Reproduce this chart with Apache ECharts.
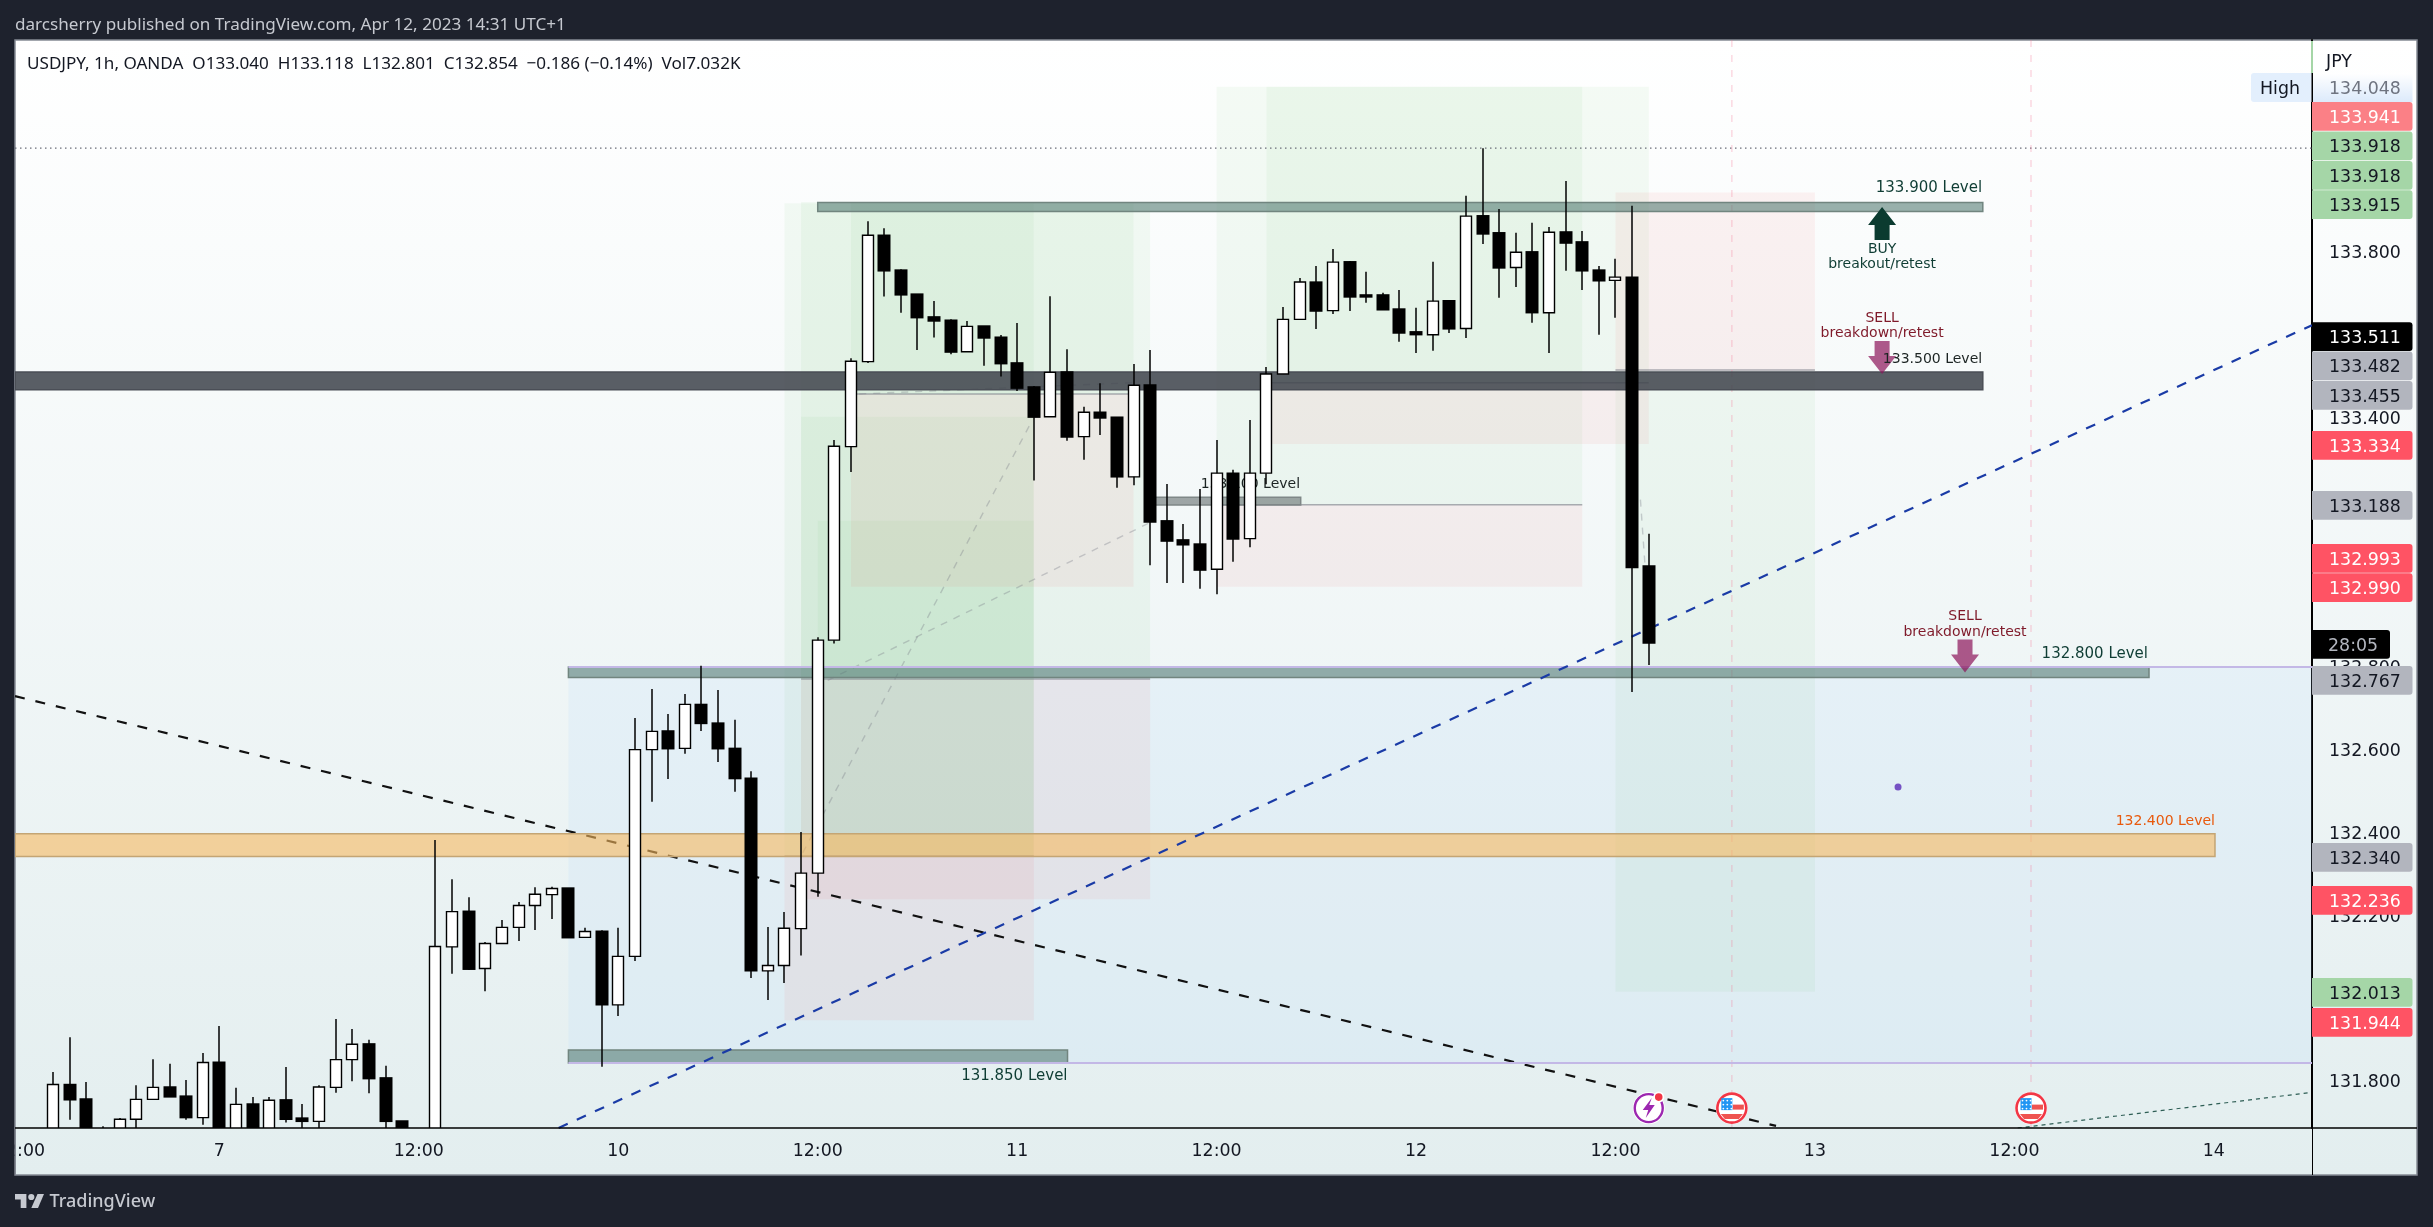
<!DOCTYPE html>
<html>
<head>
<meta charset="utf-8">
<title>USDJPY</title>
<script src="https://cdn.jsdelivr.net/npm/echarts@6/dist/echarts.min.js"></script>
<style>
html,body{margin:0;padding:0;background:#1e222d}
#chart{width:2433px;height:1227px}
</style>
</head>
<body>
<div id="chart"></div>
<script>
// hourly bars, first one sits at bar number 2 of the visible range
const firstBar = 2;
const opens = [131.62,131.789,131.754,131.66,131.65,131.705,131.753,131.783,131.761,131.709,131.843,131.64,131.742,131.64,131.752,131.708,131.7,131.782,131.849,131.887,131.805,131.701,131.6,131.65,
132.121,132.207,132.069,132.129,132.168,132.221,132.247,132.263,132.144,132.159,131.981,132.098,132.597,132.642,132.6,132.706,132.661,132.6,132.528,132.063,132.076,132.165,132.299,
132.861,133.328,133.533,133.838,133.754,133.696,133.641,133.633,133.557,133.619,133.592,133.53,133.472,133.4,133.508,133.352,133.411,133.399,133.255,133.477,133.149,133.103,133.093,133.032,133.264,133.106,
133.264,133.503,133.635,133.725,133.656,133.774,133.694,133.694,133.66,133.605,133.598,133.68,133.613,133.885,133.844,133.76,133.798,133.651,133.846,133.822,133.754,133.729,133.737,133.04];
const highs = [131.819,131.903,131.795,131.688,131.708,131.787,131.85,131.839,131.8,131.865,131.93,131.781,131.759,131.759,131.831,131.742,131.787,131.947,131.923,131.897,131.834,131.701,131.66,132.379,
132.284,132.241,132.133,132.186,132.229,132.265,132.266,132.263,132.167,132.161,132.167,132.673,132.743,132.683,132.731,132.799,132.741,132.669,132.545,132.169,132.205,132.398,132.868,
133.344,133.541,133.872,133.855,133.756,133.696,133.679,133.635,133.631,133.619,133.597,133.626,133.474,133.691,133.563,133.424,133.481,133.399,133.527,133.561,133.238,133.141,133.226,133.344,133.272,133.392,
133.52,133.665,133.735,133.764,133.805,133.776,133.75,133.699,133.706,133.663,133.774,133.682,133.933,134.048,133.901,133.844,133.868,133.858,133.969,133.848,133.764,133.781,133.909,133.118];
const lows = [131.6,131.704,131.58,131.6,131.62,131.67,131.753,131.759,131.704,131.692,131.62,131.62,131.62,131.62,131.697,131.67,131.67,131.769,131.797,131.768,131.67,131.62,131.58,131.63,
132.056,132.065,132.014,132.129,132.135,132.162,132.188,132.143,132.144,131.832,131.954,132.087,132.471,132.526,132.587,132.642,132.567,132.495,132.046,131.993,132.034,132.1,132.242,
132.853,133.267,133.53,133.69,133.651,133.561,133.591,133.551,133.557,133.523,133.497,133.462,133.246,133.4,133.342,133.296,133.356,133.229,133.235,133.042,132.999,132.999,132.985,132.972,133.05,133.085,
133.237,133.503,133.635,133.612,133.648,133.655,133.675,133.658,133.581,133.554,133.559,133.602,133.59,133.817,133.687,133.713,133.627,133.554,133.752,133.706,133.598,133.639,132.736,132.801];
const closes = [131.789,131.752,131.6,131.62,131.705,131.753,131.782,131.759,131.709,131.842,131.64,131.741,131.64,131.751,131.705,131.7,131.783,131.849,131.886,131.803,131.7,131.64,131.65,132.122,
132.206,132.067,132.129,132.168,132.221,132.248,132.262,132.143,132.158,131.981,132.098,132.597,132.641,132.599,132.706,132.66,132.599,132.527,132.063,132.076,132.166,132.299,132.861,
133.329,133.534,133.838,133.752,133.694,133.639,133.631,133.556,133.618,133.59,133.528,133.469,133.399,133.507,133.351,133.411,133.397,133.255,133.476,133.146,133.1,133.091,133.03,133.264,133.105,133.264,
133.503,133.635,133.725,133.655,133.773,133.689,133.689,133.658,133.602,133.598,133.679,133.612,133.884,133.841,133.759,133.797,133.651,133.845,133.819,133.752,133.728,133.737,133.036,132.854];

const dayTicks = ['12:00','7','12:00','10','12:00','11','12:00','12','12:00','13','12:00','14'];
const priceTicks = [131.8,132,132.2,132.4,132.6,132.8,133,133.2,133.4,133.6,133.8,134];

// drawn zones: [from bar, to bar, top price, bottom price]
const greenZones = [[46,61,133.915,132.34],[47,68,133.918,132.767],[50,67,133.918,133.455],[47,61,133.4,132.34],[48,61,133.149,132.34],
  [96,108,133.511,132.013],[72,94,134.196,133.188],[75,98,134.196,133.482]];
const redZones = [[46,61,132.34,131.944],[47,68,132.767,132.236],[50,67,133.455,132.99],[96,108,133.941,133.511],[72,94,133.188,132.99],[75,98,133.482,133.334]];
const entryLines = [[46,61,132.34],[47,68,132.767],[50,67,133.455],[96,108,133.513],[72,94,133.188],[75,98,133.482]];
const rangeZone = [[33,137.907,132.796,131.841]];
const greenBands = [[48,118.1,133.917,133.895],[33,128.1,132.796,132.771],[33,63.03,131.872,131.841]];
const darkBands = [[-0.3,118.1,133.508,133.465]];
const greyBands = [[68,77.06,133.206,133.187]];
const orangeBands = [[-0.3,132.07,132.394,132.339]];

const downTrend = [[-0.298,132.726],[105.66,131.689]];
const upTrend = [[32.41,131.684],[137.907,133.621]];
const futureTrend = [[120.2,131.684],[137.7,131.769]];
const toolLines = [[[48.6,132.764],[67.9,133.143]],[[47.1,132.348],[60.9,133.391]],[[50.5,133.455],[66.9,133.482]],[[97.5,133.2],[97.9,132.97]]];
const highLine = [[-0.298,134.048],[137.907,134.048]];
const eventBars = [103,121];

const noteTexts = ['133.900 Level','133.500 Level','133.100 Level','132.800 Level','131.850 Level','132.400 Level','BUY','breakout/retest','SELL','breakdown/retest','SELL','breakdown/retest'];
const noteBars = [118.06,118.06,77.02,128.04,63.03,132.07,112.04,112.04,112.04,112.04,117.03,117.03];
const notePrices = [133.954,133.54,133.24,132.83,131.812,132.426,133.807,133.769,133.639,133.603,132.92,132.883];
const noteKinds = ['level','levelDark','levelDark','level','level','levelOrange','buy','buy','sell','sell','sell','sell'];

const arrowBars = [112.04,112.04,117.03];
const arrowTips = [133.906,133.503,132.783];
const arrowDirs = [1,-1,-1];
const markerBar = 113, markerPrice = 132.507;

const iconBars = [98,103,121];
const iconKinds = ['bolt','flag','flag'];
const iconPrice = 131.732;

// price scale tags, stacked the way the platform stacks them
const tagTexts = ['133.941','133.918','133.918','133.915','133.511','133.482','133.455','133.334','133.188','132.993','132.990','28:05','132.767','132.340','132.236','132.013','131.944'];
const tagKinds = ['paleRed','green','green','green','black','grey','grey','red','grey','red','red','clock','grey','grey','red','green','red'];
const tagTops = [102,131.5,161,190.3,322.3,351.6,381,431,491,544,573.2,630,666,843,886,978,1008];

const tagStyle = {
  paleRed:{fill:'#fb8086',text:'#ffffff'}, red:{fill:'#ff5364',text:'#ffffff'}, green:{fill:'#a5d6a7',text:'#131722'},
  black:{fill:'#000000',text:'#ffffff'}, grey:{fill:'#b2b5be',text:'#131722'}, clock:{fill:'#000000',text:'#b2b5be'}
};
const noteStyle = {
  level:{color:'#0f3d34',align:'right',font:'15px "DejaVu Sans"'},
  levelDark:{color:'#1c2423',align:'right',font:'14px "DejaVu Sans"'},
  levelOrange:{color:'#e8590c',align:'right',font:'14px "DejaVu Sans"'},
  buy:{color:'#0f3d34',align:'center',font:'14px "DejaVu Sans"'},
  sell:{color:'#7f1a2a',align:'center',font:'14px "DejaVu Sans"'}
};

const candles = opens.map((o,n)=>[firstBar+n,o,closes[n],lows[n],highs[n]]);

function rectSeries(zones,fill,stroke,z){
  return {
    type:'custom', z:z, silent:true, clip:true,
    data:zones,
    renderItem:(params,api)=>{
      let a = api.coord([api.value(0),api.value(2)]);
      let b = api.coord([api.value(1),api.value(3)]);
      return {type:'rect',shape:{x:a[0],y:a[1],width:b[0]-a[0],height:b[1]-a[1]},style:{fill:fill,stroke:stroke||null,lineWidth:stroke?1.5:0}};
    }
  };
}
function lineSeries(points,color,width,dash,z){
  return {type:'line',z:z,silent:true,symbol:'none',animation:false,clip:true,data:points,
    lineStyle:{color:color,width:width,type:dash}};
}
// candle body and wick, cut off by the grid at the bottom
function renderCandle(params,api){
  let x = Math.round(api.coord([api.value(0),0])[0]);
  let o = api.coord([0,api.value(1)])[1];
  let c = api.coord([0,api.value(2)])[1];
  let l = api.coord([0,api.value(3)])[1];
  let h = api.coord([0,api.value(4)])[1];
  let up = api.value(2) >= api.value(1);
  let top = Math.min(o,c), bot = Math.max(o,c);
  let kids = [{type:'rect',shape:{x:x-0.75,y:h,width:1.5,height:l-h},style:{fill:'#000000'}}];
  if (up) {
    kids.push({type:'rect',shape:{x:x-5.5,y:top,width:11,height:Math.max(bot-top,1)},style:{fill:'#ffffff',stroke:'#000000',lineWidth:1.4}});
  } else {
    kids.push({type:'rect',shape:{x:x-6.5,y:top-0.7,width:13,height:Math.max(bot-top+1.4,3)},style:{fill:'#000000'}});
  }
  return {type:'group',children:kids};
}

let series = [
  rectSeries(rangeZone,'rgba(170,215,255,0.14)',null,1),
  rectSeries(greenZones,'rgba(76,175,80,0.055)',null,1),
  rectSeries(redZones,'rgba(235,70,80,0.065)',null,1),
  lineSeries(highLine,'#6a6d78',1.2,[1.5,3.5],2),
  lineSeries(downTrend,'#111111',2.2,[10,11],2),
  lineSeries(futureTrend,'#2e5e55',1.2,[4,4],2)
];
toolLines.forEach((seg)=>{ series.push(lineSeries(seg,'rgba(120,123,134,0.35)',1.4,[7,7],2)); });
entryLines.forEach((e)=>{ series.push(lineSeries([[e[0],e[2]],[e[1],e[2]]],'rgba(120,123,134,0.6)',1.5,'solid',2)); });
eventBars.forEach((b)=>{ series.push(lineSeries([[b,134.309],[b,131.684]],'rgba(245,120,150,0.28)',1.5,[7,8],2)); });
series = series.concat([
  rectSeries(orangeBands,'rgba(246,185,95,0.6)','#c4a574',3),
  rectSeries(greenBands,'rgba(87,125,116,0.6)','#71857f',3),
  rectSeries(darkBands,'rgba(65,70,78,0.87)','#4a4e56',3),
  rectSeries(greyBands,'rgba(100,110,110,0.6)','#7f8787',3),
  lineSeries([[33,132.796],[137.907,132.796]],'#c3b8e6',2,'solid',3.2),
  lineSeries([[33,131.841],[137.907,131.841]],'#c3b8e6',2,'solid',3.2),
  lineSeries(upTrend,'#1a3ba6',2.2,[10,10],3.5),
  {
    type:'custom', z:3.6, silent:true,
    data:arrowBars.map((b,n)=>[b,arrowTips[n],arrowDirs[n]]),
    renderItem:(params,api)=>{
      let t = api.coord([api.value(0),api.value(1)]);
      let d = api.value(2);
      let x = t[0], y = t[1];
      let pts = [[x,y],[x+14,y+d*18],[x+7.5,y+d*18],[x+7.5,y+d*33],[x-7.5,y+d*33],[x-7.5,y+d*18],[x-14,y+d*18]];
      return {type:'polygon',shape:{points:pts},style:{fill:d>0?'#0b3b30':'rgba(140,20,90,0.7)'}};
    }
  },
  {
    type:'custom', z:3.8, silent:true,
    data:noteTexts.map((t,n)=>[noteBars[n],notePrices[n],n]),
    renderItem:(params,api)=>{
      let p = api.coord([api.value(0),api.value(1)]);
      let s = noteStyle[noteKinds[api.value(2)]];
      return {type:'text',style:{x:p[0],y:p[1]+1,text:noteTexts[api.value(2)],fill:s.color,font:s.font,align:s.align,verticalAlign:'middle'}};
    }
  },
  {type:'scatter',z:3.8,silent:true,symbolSize:7,itemStyle:{color:'#5a2bb8'},data:[[markerBar,markerPrice]]},
  {type:'custom',z:5,silent:true,clip:true,data:candles,renderItem:renderCandle},
  {
    type:'custom', z:6, silent:true,
    data:iconBars.map((b,n)=>[b,iconPrice,n]),
    renderItem:(params,api)=>{
      let c = api.coord([api.value(0),api.value(1)]);
      let x = c[0], y = c[1], kids = [];
      if (iconKinds[api.value(2)] == 'bolt') {
        kids.push({type:'circle',shape:{cx:x,cy:y,r:16},style:{fill:'#ffffff'}});
        kids.push({type:'circle',shape:{cx:x,cy:y,r:14},style:{fill:'#ffffff',stroke:'#9c27b0',lineWidth:2.4}});
        kids.push({type:'polygon',shape:{points:[[x+3,y-10],[x-6,y+2],[x-0.5,y+2],[x-3,y+10],[x+6,y-3],[x+0.5,y-3]]},style:{fill:'#9c27b0'}});
        kids.push({type:'circle',shape:{cx:x+10,cy:y-11,r:5.5},style:{fill:'#ffffff'}});
        kids.push({type:'circle',shape:{cx:x+10,cy:y-11,r:3.8},style:{fill:'#f23645'}});
      } else {
        kids.push({type:'circle',shape:{cx:x,cy:y,r:16},style:{fill:'#ffffff'}});
        kids.push({type:'circle',shape:{cx:x,cy:y,r:14.5},style:{fill:'#ffffff',stroke:'#f23645',lineWidth:2.6}});
        kids.push({type:'rect',shape:{x:x+1,y:y-3.5,width:11,height:5},style:{fill:'#ef5350'}});
        kids.push({type:'polygon',shape:{points:[[x-11,y+6],[x+11,y+6],[x+7,y+11],[x-7,y+11]]},style:{fill:'#ef5350'}});
        kids.push({type:'rect',shape:{x:x-10.5,y:y-10,width:11,height:12},style:{fill:'#2196f3'}});
        [-8,-4,0].forEach((dx)=>{ [-7,-3,1].forEach((dy)=>{
          kids.push({type:'circle',shape:{cx:x+dx-0.5,cy:y+dy-0.5,r:0.9},style:{fill:'#ffffff'}});
        }); });
      }
      return {type:'group',children:kids};
    }
  }
]);

// frame, header, footer and the tags of the price scale
const topZ = 100;
const font = '17.4px "DejaVu Sans"';
let elements = [
  {type:'rect',z:-20,silent:true,shape:{x:15,y:40,width:2402,height:1135},
    style:{fill:new echarts.graphic.LinearGradient(0,0,0,1,[{offset:0,color:'#ffffff'},{offset:1,color:'#e3eeef'}]),stroke:'#858a94',lineWidth:1.5}},
  {type:'rect',z:topZ,silent:true,shape:{x:0,y:1129,width:14.5,height:46},style:{fill:'#1e222d'}},
  {type:'rect',z:topZ,silent:true,shape:{x:14.5,y:1129,width:1.5,height:46},style:{fill:'#858a94'}},
  {type:'line',z:topZ,silent:true,shape:{x1:15,y1:1128,x2:2417,y2:1128},style:{stroke:'#000000',lineWidth:1.6}},
  {type:'line',z:topZ,silent:true,shape:{x1:2312.5,y1:1128,x2:2312.5,y2:1175},style:{stroke:'#000000',lineWidth:1}},
  {type:'line',z:topZ,silent:true,shape:{x1:2312,y1:41,x2:2312,y2:73},style:{stroke:'#a5d6a7',lineWidth:2}},
  {type:'text',z:topZ,silent:true,style:{x:15,y:25,text:'darcsherry published on TradingView.com, Apr 12, 2023 14:31 UTC+1',fill:'#c6c9d0',font:'17.1px "Noto Sans"',verticalAlign:'middle'}},
  {type:'text',z:topZ,silent:true,style:{x:27,y:64,text:'USDJPY, 1h, OANDA  O133.040  H133.118  L132.801  C132.854  \u22120.186 (\u22120.14%)  Vol7.032K',fill:'#131722',font:'17.1px "Noto Sans"',verticalAlign:'middle'}},
  {type:'polygon',z:topZ,silent:true,shape:{points:[[15,1194],[26.4,1194],[26.4,1208],[20.7,1208],[20.7,1199.4],[15,1199.4]]},style:{fill:'#c6c9d0'}},
  {type:'polygon',z:topZ,silent:true,shape:{points:[[37.5,1194],[44,1194],[38,1208],[31.3,1208]]},style:{fill:'#c6c9d0'}},
  {type:'circle',z:topZ,silent:true,shape:{cx:31.3,cy:1197,r:3.1},style:{fill:'#c6c9d0'}},
  {type:'text',z:topZ,silent:true,style:{x:49.5,y:1202,text:'TradingView',fill:'#c6c9d0',font:'500 18px "Noto Sans"',verticalAlign:'middle'}},
  {type:'text',z:topZ,silent:true,style:{x:2326,y:62,text:'JPY',fill:'#131722',font:font,verticalAlign:'middle'}},
  {type:'rect',z:topZ,silent:true,shape:{x:2251,y:73,width:61,height:29,r:[3,0,0,3]},style:{fill:'#e3effd'}},
  {type:'text',z:topZ,silent:true,style:{x:2260,y:89,text:'High',fill:'#131722',font:font,verticalAlign:'middle'}},
  {type:'line',z:topZ,silent:true,shape:{x1:2312,y1:73,x2:2312,y2:102},style:{stroke:'#000000',lineWidth:1}},
  {type:'rect',z:topZ,silent:true,shape:{x:2313,y:73,width:99.5,height:29},
    style:{fill:new echarts.graphic.LinearGradient(0,0,0,1,[{offset:0,color:'#ffffff'},{offset:1,color:'#dceafb'}])}},
  {type:'text',z:topZ,silent:true,style:{x:2329,y:89,text:'134.048',fill:'#6f7480',font:font,verticalAlign:'middle'}}
];
tagTexts.forEach((t,n)=>{
  let s = tagStyle[tagKinds[n]];
  let w = tagKinds[n]=='clock' ? 78 : 100.5;
  elements.push({type:'rect',z:topZ,silent:true,shape:{x:2312,y:tagTops[n],width:w,height:28.7,r:[0,3,3,0]},style:{fill:s.fill}});
  elements.push({type:'text',z:topZ+1,silent:true,style:{x:tagKinds[n]=='clock'?2328:2329,y:tagTops[n]+16,text:t,fill:s.text,font:font,verticalAlign:'middle'}});
});

let myChart = echarts.init(document.getElementById('chart'));
let option = {
  backgroundColor:'#1e222d',
  animation:false,
  grid:{left:15,top:40,width:2297,height:1088,containLabel:false,outerBoundsMode:'none'},
  xAxis:{
    type:'value', min:-0.298, max:137.907,
    axisLine:{show:false}, axisTick:{show:false}, splitLine:{show:false},
    axisLabel:{
      customValues:dayTicks.map((t,n)=>n*12),
      formatter:(v)=>dayTicks[Math.round(v/12)],
      color:'#131722', fontFamily:'DejaVu Sans', fontSize:17.4, margin:15
    }
  },
  yAxis:{
    type:'value', position:'right', min:131.684, max:134.309,
    axisLine:{show:true,onZero:false,lineStyle:{color:'#000000',width:2}},
    axisTick:{show:false}, splitLine:{show:false},
    axisLabel:{
      customValues:priceTicks,
      formatter:(v)=>v.toFixed(3),
      color:'#131722', fontFamily:'DejaVu Sans', fontSize:17.4, margin:17,
      verticalAlign:'top', lineHeight:20, padding:[-7,0,0,0]
    }
  },
  graphic:{elements:elements},
  series:series
};
myChart.setOption(option);
</script>
</body>
</html>
